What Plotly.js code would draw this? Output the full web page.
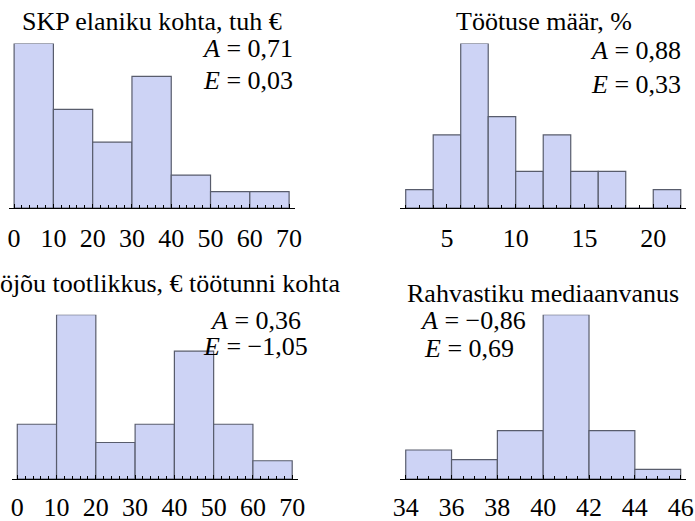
<!DOCTYPE html>
<html>
<head>
<meta charset="utf-8">
<script src="https://cdn.plot.ly/plotly-3.0.1.min.js"></script>
<style>html,body{margin:0;padding:0;background:#fff;}#chart{width:695px;height:521px;}</style>
</head>
<body>
<div id="chart"></div>
<script>
// ---- data ----
const gdpBinStart = [0, 10, 20, 30, 40, 50, 60];
const gdpBinWidth = 10;
const gdpCounts = [10, 6, 4, 8, 2, 1, 1];

const unempBinStart = [2, 4, 6, 8, 10, 12, 14, 16, 18, 20];
const unempBinWidth = 2;
const unempCounts = [1, 4, 9, 5, 2, 4, 2, 2, 0, 1];

const prodBinStart = [0, 10, 20, 30, 40, 50, 60];
const prodBinWidth = 10;
const prodCounts = [3, 9, 2, 3, 7, 3, 1];

const ageBinStart = [34, 36, 38, 40, 42, 44];
const ageBinWidth = 2;
const ageCounts = [3, 2, 5, 17, 5, 1];

const titles = ["SKP elaniku kohta, tuh €", "Töötuse määr, %", "Tööjõu tootlikkus, € töötunni kohta", "Rahvastiku mediaanvanus"];
const skewA = ["0,71", "0,88", "0,36", "−0,86"];
const kurtE = ["0,03", "0,33", "−1,05", "0,69"];

// ---- build ----
const W = 695, H = 521;
const px = v => v / W;
const py = v => 1 - v / H;
const FONT = "Liberation Serif";
const FS_TICK = 26;
const FS_TEXT = 26;

function barTrace(starts, w, counts, xa, ya) {
  return {
    type: 'bar',
    x: starts.map(s => s + w / 2),
    y: counts,
    width: starts.map(() => w),
    xaxis: xa, yaxis: ya,
    marker: {color: 'rgb(205,211,245)', line: {color: 'rgb(88,92,108)', width: 1.2}},
    hoverinfo: 'none'
  };
}

const data = [
  barTrace(gdpBinStart, gdpBinWidth, gdpCounts, 'x', 'y'),
  barTrace(unempBinStart, unempBinWidth, unempCounts, 'x2', 'y2'),
  barTrace(prodBinStart, prodBinWidth, prodCounts, 'x3', 'y3'),
  barTrace(ageBinStart, ageBinWidth, ageCounts, 'x4', 'y4')
];

function xax(domain, range, tick0, dtick, mdtick, anchor, standoff) {
  return {
    domain: domain, range: range, anchor: anchor,
    tickmode: 'linear', tick0: tick0, dtick: dtick,
    ticks: 'inside', ticklen: 4, tickwidth: 1, tickcolor: '#000',
    minor: {tick0: tick0, dtick: mdtick, ticks: 'inside', ticklen: 3, tickwidth: 1, tickcolor: '#000', showgrid: false},
    showline: true, linecolor: '#000', linewidth: 1,
    showgrid: false, zeroline: false, fixedrange: true,
    ticklabelstandoff: standoff,
    tickfont: {family: FONT, size: FS_TICK, color: '#000'}
  };
}
function yax(domain, maxv, anchor) {
  return {domain: domain, range: [0, maxv], anchor: anchor, visible: false, fixedrange: true};
}

const topDom = [py(208), py(43.5)];
const botDom = [py(479), py(314.7)];

const layout = {
  width: W, height: H,
  margin: {l: 0, r: 0, t: 0, b: 0},
  paper_bgcolor: '#fff', plot_bgcolor: 'rgba(0,0,0,0)',
  showlegend: false, bargap: 0,
  font: {family: FONT, size: FS_TEXT, color: '#000'},
  xaxis: xax([px(9), px(295)], [-1.3, 71.5], 0, 10, 2, 'y', 7),
  yaxis: yax(topDom, Math.max(...gdpCounts), 'x'),
  xaxis2: xax([px(400), px(685.7)], [1.585, 22.36], 0, 5, 1, 'y2', 7),
  yaxis2: yax(topDom, Math.max(...unempCounts), 'x2'),
  xaxis3: xax([px(12.3), px(297.7)], [-1.27, 71.4], 0, 10, 2, 'y3', 5),
  yaxis3: yax(botDom, Math.max(...prodCounts), 'x3'),
  xaxis4: xax([px(400), px(685.7)], [33.75, 46.22], 34, 2, 0.5, 'y4', 5),
  yaxis4: yax(botDom, Math.max(...ageCounts), 'x4'),
  annotations: []
};

function ann(text, x, y, xanchor) {
  layout.annotations.push({
    text: text, xref: 'paper', yref: 'paper', x: px(x), y: py(y),
    xanchor: xanchor, yanchor: 'middle', showarrow: false,
    font: {family: FONT, size: FS_TEXT, color: '#000'}
  });
}
ann(titles[0], 151.5, 22, 'center');
ann(titles[1], 544, 21, 'center');
ann(titles[2], 343, 283, 'right');
ann(titles[3], 543, 293, 'center');
ann('<i>A</i> = ' + skewA[0], 295, 49, 'right');
ann('<i>E</i> = ' + kurtE[0], 295, 81, 'right');
ann('<i>A</i> = ' + skewA[1], 683, 50, 'right');
ann('<i>E</i> = ' + kurtE[1], 683, 84, 'right');
ann('<i>A</i> = ' + skewA[2], 303, 320, 'right');
ann('<i>E</i> = ' + kurtE[2], 310, 346, 'right');
ann('<i>A</i> = ' + skewA[3], 418, 320, 'left');
ann('<i>E</i> = ' + kurtE[3], 422, 348, 'left');

Plotly.newPlot('chart', data, layout, {staticPlot: true, displayModeBar: false});
</script>
</body>
</html>
